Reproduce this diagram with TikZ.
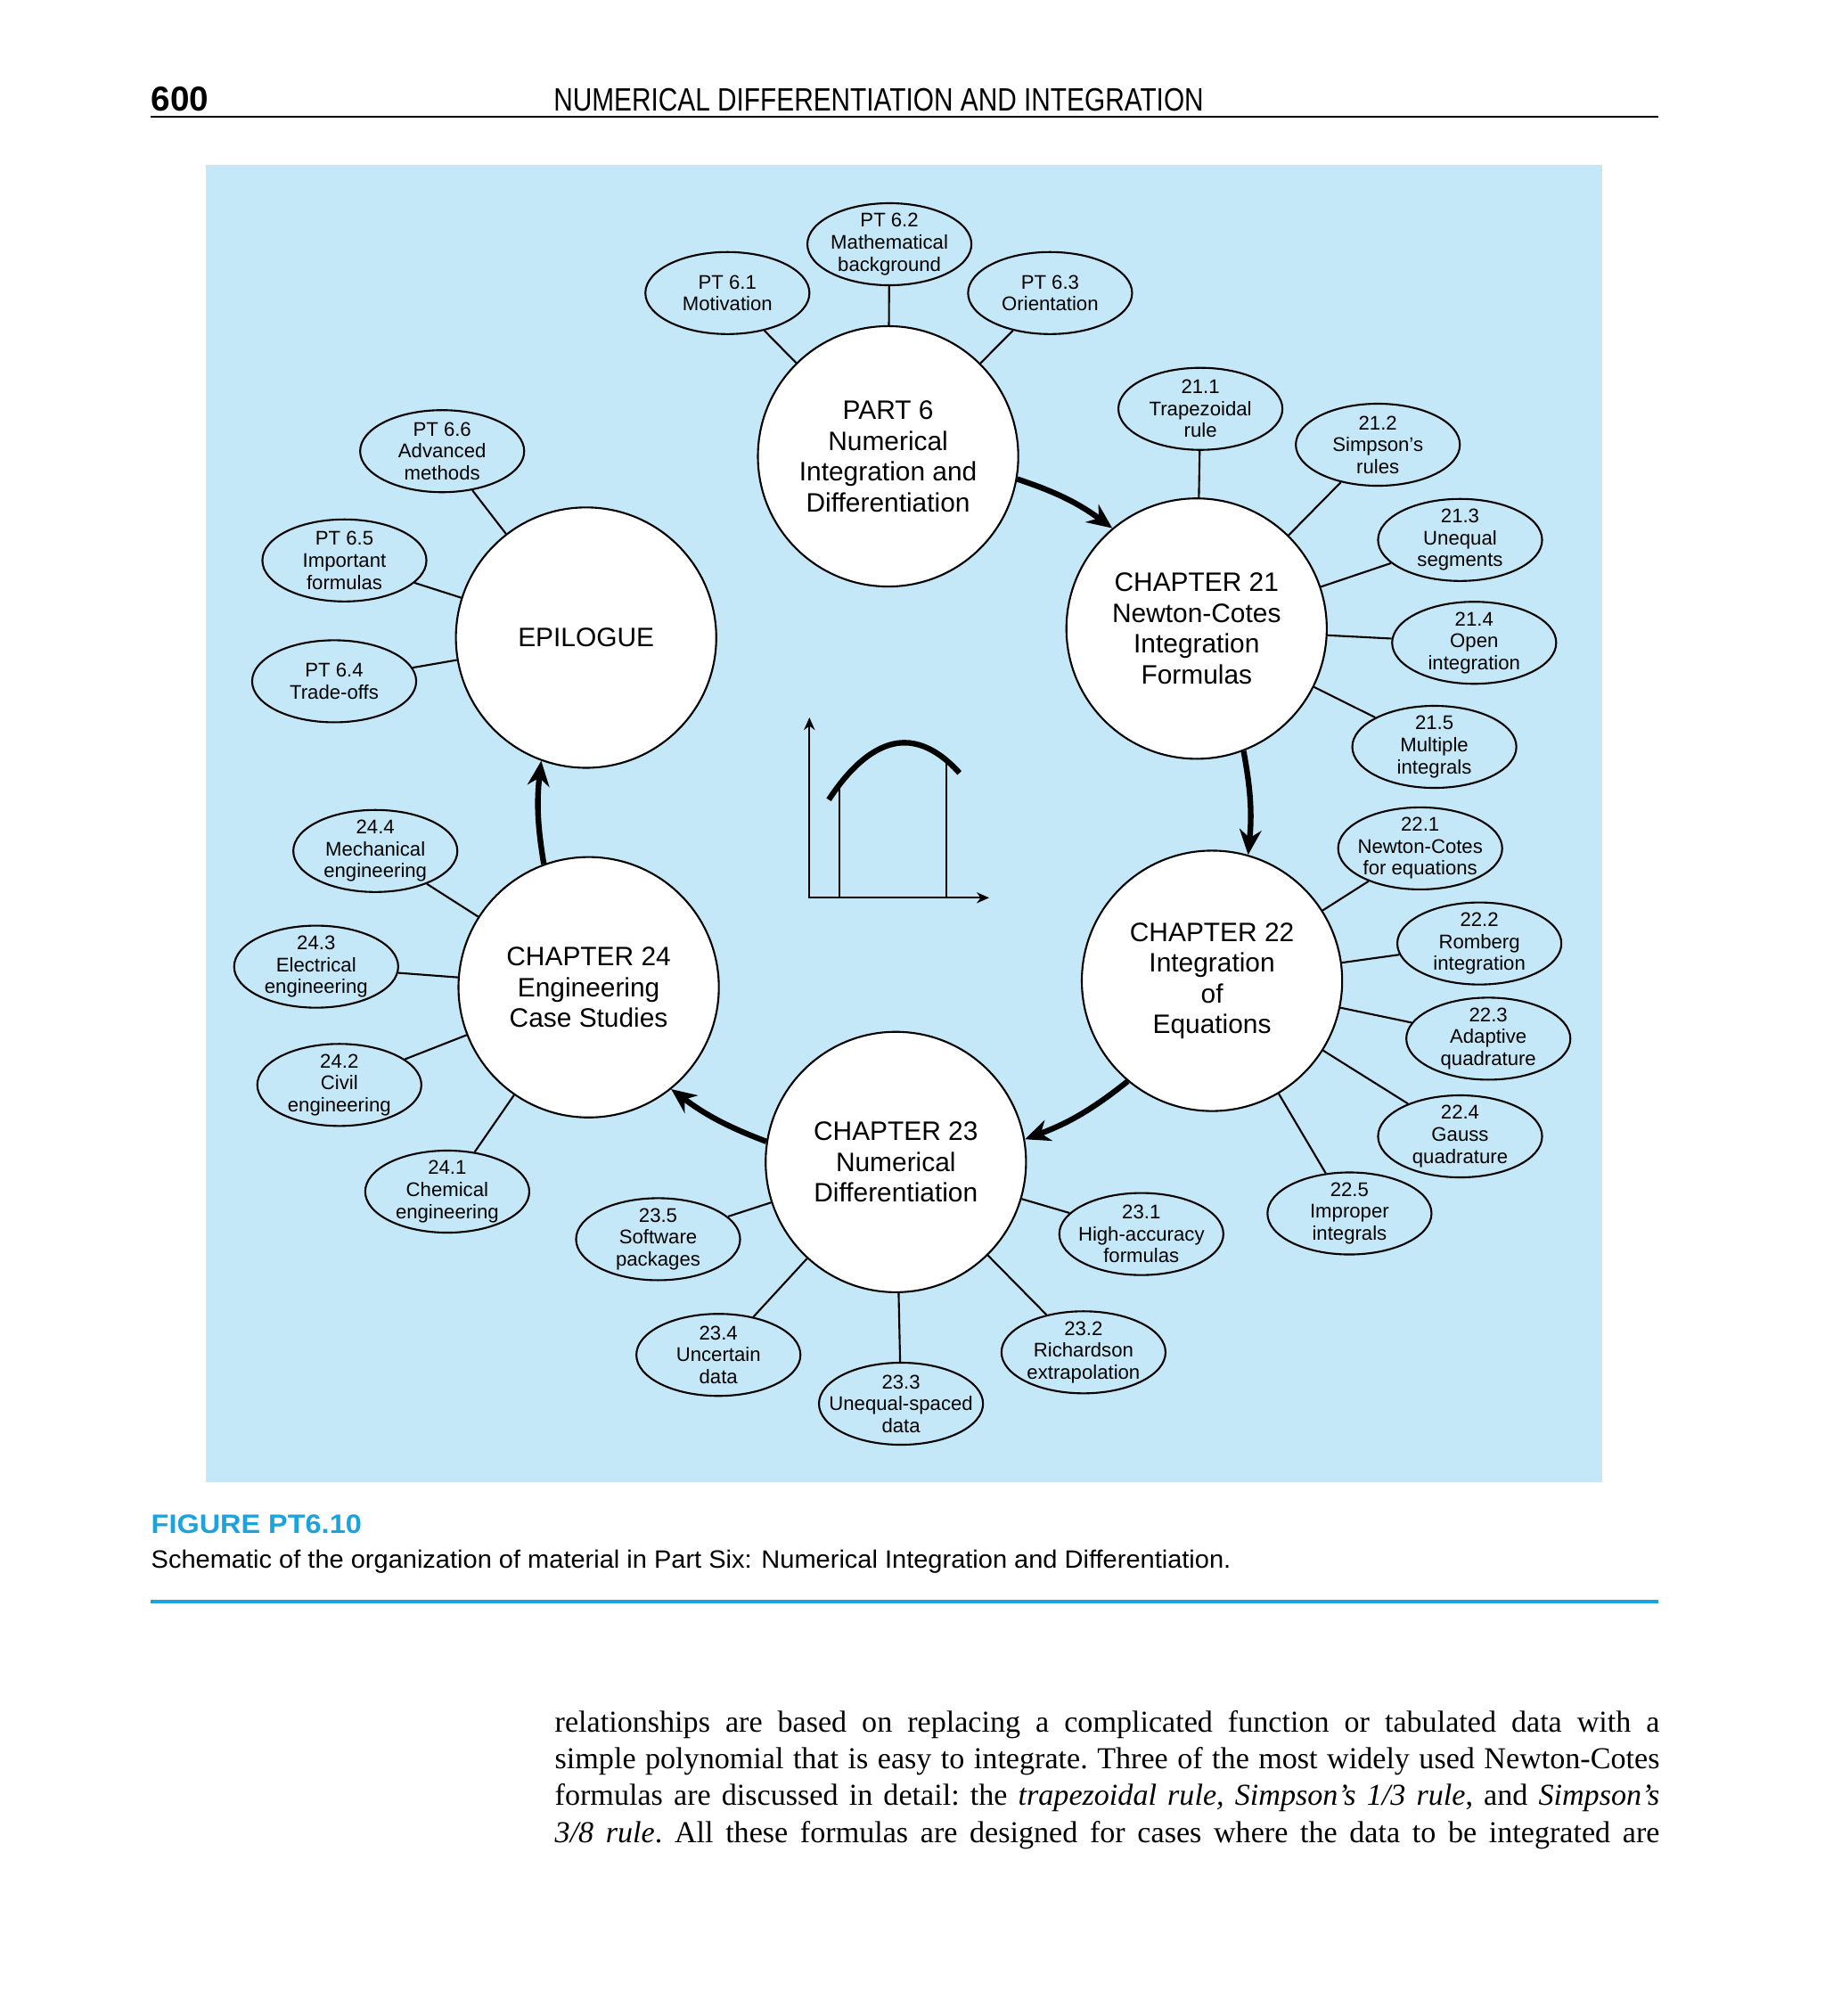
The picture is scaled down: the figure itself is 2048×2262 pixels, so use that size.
\documentclass[tikz,border=0pt]{standalone}
\usepackage{fontspec}
\setmainfont{Liberation Serif}
\setsansfont{Liberation Sans}
\usepackage{graphicx}
\usepackage{xcolor}
\definecolor{PanelBlue}{HTML}{C5E8F8}
\definecolor{CaptionCyan}{HTML}{1AA3DD}
\usepackage{tikz}
\usetikzlibrary{arrows.meta,shapes.geometric}

\begin{document}
\begin{tikzpicture}[x=0.01cm,y=-0.01cm,
  chapter/.style={draw,circle,fill=white,line width=0.6pt,minimum size=2.92cm,inner sep=0pt,align=center,font=\sffamily\fontsize{8.5}{9.8}\selectfont},
  topic/.style={draw,ellipse,line width=0.6pt,minimum width=1.84cm,minimum height=0.92cm,inner xsep=-12pt,inner ysep=-5pt,align=center,font=\sffamily\fontsize{6.3}{7}\selectfont},
  link/.style={line width=0.6pt},
  flow/.style={-{Stealth[length=8pt,width=7pt]},line width=1.8pt},
  axis/.style={{Stealth[length=4pt,width=3.5pt]}-{Stealth[length=4pt,width=3.5pt]},line width=0.6pt}
]
  \fill[white] (0,0) rectangle (2048,2262);
  \useasboundingbox (0,0) rectangle (2048,2262);

  % running head
  \node[anchor=base west,inner sep=0pt,font=\sffamily\bfseries\fontsize{11}{13}\selectfont] (pagenum) at (169,124) {600};
  \node[anchor=base,inner sep=0pt,font=\sffamily\fontsize{10.3}{12}\selectfont] (runhead) at (986,124) {\resizebox{7.29cm}{\height}{NUMERICAL DIFFERENTIATION AND INTEGRATION}};
  \draw[line width=0.8pt] (169,131) -- (1861,131);

  \fill[PanelBlue] (231,184.5) rectangle (1798,1663);

  % chapters on the ring
  \node[chapter] (part6) at (996.6,512) {PART 6\\Numerical\\Integration and\\Differentiation};
  \node[chapter] (ch21) at (1342.8,705.3) {CHAPTER 21\\Newton-Cotes\\Integration\\Formulas};
  \node[chapter] (ch22) at (1360.1,1100.5) {CHAPTER 22\\Integration\\of\\Equations};
  \node[chapter] (ch23) at (1005.3,1303.8) {CHAPTER 23\\Numerical\\Differentiation};
  \node[chapter] (ch24) at (660.6,1107.7) {CHAPTER 24\\Engineering\\Case Studies};
  \node[chapter] (epi) at (657.7,715.4) {EPILOGUE};

  % sections
  \node[topic] (pt61) at (816.3,328.8) {PT 6.1\\Motivation};
  \node[topic] (pt62) at (998.1,274) {PT 6.2\\Mathematical\\background};
  \node[topic] (pt63) at (1178.4,328.8) {PT 6.3\\Orientation};
  \node[topic] (pt66) at (496.2,506.2) {PT 6.6\\Advanced\\methods};
  \node[topic] (pt65) at (386.5,628.8) {PT 6.5\\Important\\formulas};
  \node[topic] (pt64) at (375,764.4) {PT 6.4\\Trade-offs};
  \node[topic] (s211) at (1347.1,458.7) {21.1\\Trapezoidal\\rule};
  \node[topic] (s212) at (1546.2,499) {21.2\\Simpson's\\rules};
  \node[topic] (s213) at (1638.5,605.8) {21.3\\Unequal\\segments};
  \node[topic] (s214) at (1654.3,721.2) {21.4\\Open\\integration};
  \node[topic] (s215) at (1609.6,838) {21.5\\Multiple\\integrals};
  \node[topic] (s221) at (1593.7,951.9) {22.1\\Newton-Cotes\\for equations};
  \node[topic] (s222) at (1660.1,1058.6) {22.2\\Romberg\\integration};
  \node[topic] (s223) at (1670.2,1165.4) {22.3\\Adaptive\\quadrature};
  \node[topic] (s224) at (1638.5,1275) {22.4\\Gauss\\quadrature};
  \node[topic] (s225) at (1514.4,1361.5) {22.5\\Improper\\integrals};
  \node[topic] (s231) at (1280.8,1384.6) {23.1\\High-accuracy\\formulas};
  \node[topic] (s232) at (1215.9,1517.3) {23.2\\Richardson\\extrapolation};
  \node[topic] (s233) at (1011.1,1575) {23.3\\Unequal-spaced\\data};
  \node[topic] (s234) at (806.2,1520.2) {23.4\\Uncertain\\data};
  \node[topic] (s235) at (738.5,1390.4) {23.5\\Software\\packages};
  \node[topic] (s241) at (501.9,1337) {24.1\\Chemical\\engineering};
  \node[topic] (s242) at (380.8,1217.3) {24.2\\Civil\\engineering};
  \node[topic] (s243) at (354.8,1084.6) {24.3\\Electrical\\engineering};
  \node[topic] (s244) at (421.2,954.8) {24.4\\Mechanical\\engineering};

  \draw[link] (pt61) -- (part6);
  \draw[link] (pt62) -- (part6);
  \draw[link] (pt63) -- (part6);
  \draw[link] (pt66) -- (epi);
  \draw[link] (pt65) -- (epi);
  \draw[link] (pt64) -- (epi);
  \draw[link] (s211) -- (ch21);
  \draw[link] (s212) -- (ch21);
  \draw[link] (s213) -- (ch21);
  \draw[link] (s214) -- (ch21);
  \draw[link] (s215) -- (ch21);
  \draw[link] (s221) -- (ch22);
  \draw[link] (s222) -- (ch22);
  \draw[link] (s223) -- (ch22);
  \draw[link] (s224) -- (ch22);
  \draw[link] (s225) -- (ch22);
  \draw[link] (s231) -- (ch23);
  \draw[link] (s232) -- (ch23);
  \draw[link] (s233) -- (ch23);
  \draw[link] (s234) -- (ch23);
  \draw[link] (s235) -- (ch23);
  \draw[link] (s241) -- (ch24);
  \draw[link] (s242) -- (ch24);
  \draw[link] (s243) -- (ch24);
  \draw[link] (s244) -- (ch24);

  \draw[flow] (part6.-10) to[bend left=9] (ch21.130);
  \draw[flow] (ch21.-69) to[bend left=8] (ch22.74);
  \draw[flow] (ch22.-130) to[bend left=9] (ch23.10);
  \draw[flow] (ch23.171) to[bend left=8] (ch24.-51);
  \draw[flow] (ch24.110) to[bend left=8] (epi.-110);

  % area under a curve
  \draw[axis] (908.3,805) |- (1110,1007.3);
  \draw[link] (942.3,1007.3) -- (942.3,880);
  \draw[link] (1062,1007.3) -- (1062,853);
  \draw[line width=1.8pt] (930,897.3) parabola bend (1015,833.3) (1076.7,867.3);

  % caption
  \node[anchor=base west,inner sep=0pt,text=CaptionCyan,font=\sffamily\bfseries\fontsize{8.5}{10}\selectfont] (figlabel) at (169,1720) {\resizebox{2.36cm}{\height}{FIGURE PT6.10}};
  \node[anchor=base west,inner sep=0pt,font=\sffamily\fontsize{8}{10}\selectfont] (captext) at (169,1759) {\resizebox{12.11cm}{\height}{Schematic of the organization of material in Part Six: Numerical Integration and Differentiation.}};
  \draw[CaptionCyan,line width=1.2pt] (169,1797) -- (1861,1797);

  \node[anchor=base west,inner sep=0pt,font=\rmfamily\fontsize{9.7}{11.76}\selectfont] (bodytext) at (622,1943) {\parbox[t]{12.39cm}{\frenchspacing\hyphenpenalty=10000\parfillskip=0pt
    relationships are based on replacing a complicated function or tabulated data with a\linebreak
    simple polynomial that is easy to integrate. Three of the most widely used Newton-Cotes\linebreak
    formulas are discussed in detail: the \textit{trapezoidal rule, Simpson’s 1/3 rule}, and \textit{Simpson’s}\linebreak
    \textit{3/8 rule}. All these formulas are designed for cases where the data to be integrated are}};
\end{tikzpicture}
\end{document}
